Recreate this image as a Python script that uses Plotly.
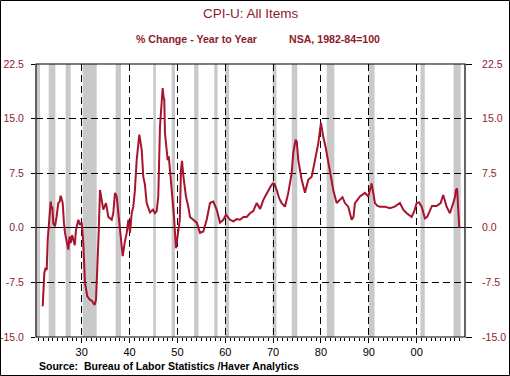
import plotly.graph_objects as go

# ---- data ----
years = [1921.85, 1922.05, 1922.19, 1922.45, 1922.69, 1922.90, 1923.23, 1923.52, 1923.70, 1923.86,
         1924.07, 1924.42, 1924.75, 1925.11, 1925.40, 1925.61, 1925.80, 1926.03, 1926.30, 1926.51,
         1926.87, 1927.20, 1927.45, 1927.70, 1928.00, 1928.24, 1928.55, 1928.81, 1929.29, 1929.64,
         1930.00, 1930.33, 1930.69, 1931.17, 1931.73, 1932.10, 1932.42, 1932.70, 1932.99, 1933.26,
         1933.55, 1933.82, 1934.00, 1934.18, 1934.51, 1934.80, 1935.08, 1935.56, 1936.27, 1936.60,
         1936.96, 1937.31, 1937.58, 1938.00, 1938.57, 1939.00, 1939.40, 1939.74, 1940.09, 1940.45,
         1940.78, 1941.10, 1941.49, 1942.04, 1942.30, 1942.54, 1942.87, 1943.20, 1943.58, 1944.00,
         1944.27, 1944.90, 1945.30, 1945.67, 1946.00, 1946.36, 1946.70, 1946.92, 1947.10, 1947.26,
         1947.40, 1947.55, 1947.75, 1947.97, 1948.20, 1948.45, 1948.80, 1949.29, 1949.70, 1950.18,
         1950.50, 1950.75, 1950.96, 1951.27, 1951.79, 1952.27, 1952.63, 1953.32, 1954.03, 1954.72,
         1955.41, 1956.12, 1956.81, 1957.50, 1958.21, 1958.90, 1959.59, 1960.15, 1960.99, 1961.68,
         1962.40, 1963.08, 1963.80, 1964.48, 1965.17, 1965.85, 1966.56, 1967.30, 1967.94, 1968.50,
         1968.99, 1969.50, 1969.91, 1970.30, 1970.74, 1971.30, 1971.79, 1972.48, 1973.17, 1973.50,
         1973.88, 1974.21, 1974.71, 1974.95, 1975.26, 1975.97, 1976.66, 1977.35, 1978.06, 1978.75,
         1979.44, 1980.00, 1980.20, 1980.48, 1981.00, 1981.19, 1981.88, 1982.57, 1983.28, 1983.97,
         1984.50, 1985.01, 1985.70, 1986.41, 1986.80, 1987.10, 1988.15, 1989.19, 1989.88, 1990.59,
         1991.28, 1991.80, 1992.33, 1993.40, 1994.42, 1995.40, 1996.51, 1997.20, 1997.91, 1998.95,
         1999.50, 2000.00, 2000.50, 2001.04, 2001.73, 2002.20, 2002.78, 2003.20, 2004.18, 2005.00,
         2005.55, 2006.00, 2006.26, 2006.95, 2007.30, 2007.64, 2008.00, 2008.21, 2008.45, 2008.56,
         2008.90]
cpi_yoy = [-10.8, -8.0, -6.2, -5.5, -5.8, -1.6, 1.1, 3.6, 2.6, 2.9,
           0.6, 0.2, 1.5, 3.4, 3.6, 4.4, 4.0, 3.4, 0.6, -0.7,
           -1.9, -3.0, -1.2, -2.1, -1.0, -1.6, -2.4, -0.3, 1.1, 0.4,
           0.7, -2.1, -7.6, -9.4, -9.9, -10.0, -10.3, -10.6, -9.9, -5.8,
           -0.7, 5.2, 4.0, 3.8, 2.5, 3.0, 3.4, 1.5, 1.1, 2.0,
           4.8, 4.3, 2.5, -0.3, -3.9, -2.0, -0.7, 1.1, -0.7, 2.0,
           2.9, 5.0, 9.3, 12.8, 11.8, 10.7, 7.0, 6.0, 3.4, 2.5,
           2.1, 2.5, 2.0, 2.3, 4.3, 13.9, 17.0, 19.2, 18.0, 17.6,
           13.0, 12.1, 10.0, 9.3, 9.8, 8.0, 5.2, 1.5, -2.8, -0.7,
           1.1, 8.0, 9.2, 7.0, 4.3, 2.9, 1.5, 1.1, 0.7, -0.7,
           -0.5, 1.1, 3.4, 3.6, 2.5, 0.7, 1.1, 1.8, 1.1, 0.9,
           1.2, 1.1, 1.5, 1.5, 2.0, 2.3, 3.4, 2.6, 3.8, 4.5,
           5.2, 5.7, 6.1, 6.0, 5.2, 4.0, 3.4, 2.9, 4.8, 6.0,
           7.5, 10.3, 12.1, 11.8, 9.3, 6.6, 4.8, 6.6, 7.0, 9.3,
           11.6, 14.4, 13.5, 12.5, 11.0, 10.3, 8.0, 5.2, 3.4, 3.8,
           4.2, 3.4, 2.9, 1.1, 1.5, 3.4, 4.3, 4.8, 4.3, 6.1,
           3.4, 3.0, 2.9, 2.9, 2.7, 2.9, 3.4, 2.5, 2.0, 1.5,
           2.3, 3.4, 3.5, 2.9, 1.3, 1.5, 2.5, 3.0, 3.0, 3.4,
           4.5, 3.5, 2.9, 2.0, 2.6, 3.4, 4.2, 5.2, 5.4, 4.3,
           0.0]

recession_start = [1920.6, 1923.1, 1926.65, 1930.2, 1937.1, 1944.96, 1948.8, 1953.5, 1957.7,
                   1960.0, 1969.9, 1973.9, 1981.2, 1990.0, 2000.8, 2007.7]
recession_end = [1921.3, 1924.5, 1927.7, 1933.13, 1938.2, 1945.5, 1949.5, 1954.4, 1958.4,
                 1960.8, 1970.7, 1975.05, 1982.8, 1991.2, 2001.7, 2009.2]

x_tick_vals = [1930, 1940, 1950, 1960, 1970, 1980, 1990, 2000]
x_tick_text = ["30", "40", "50", "60", "70", "80", "90", "00"]
minor_years = list(range(1921, 2010))
y_tick_vals = [-15, -7.5, 0, 7.5, 15, 22.5]
y_tick_text = ["-15.0", "-7.5", "0.0", "7.5", "15.0", "22.5"]

# ---- style ----
W, H = 510, 376
L, R, T, B = 36, 45, 64, 39
PW, PH = W - L - R, H - T - B
RED = "#8E1B2C"
LINE = "#A8132E"
FONT = "Liberation Sans, Arial, sans-serif"


def px(xpix):
    return (xpix - L) / PW


def py(ypix):
    return (H - B - ypix) / PH


fig = go.Figure()
fig.add_trace(go.Scatter(x=years, y=cpi_yoy, mode="lines",
                         line=dict(color=LINE, width=2), showlegend=False,
                         hoverinfo="skip"))
fig.add_trace(go.Scatter(x=years, y=cpi_yoy, mode="lines", yaxis="y2",
                         line=dict(color=LINE, width=0), opacity=0,
                         showlegend=False, hoverinfo="skip"))

shapes = []
for s, e in zip(recession_start, recession_end):
    shapes.append(dict(type="rect", xref="x", yref="paper", x0=s, x1=e, y0=0, y1=1,
                       fillcolor="#C9C9C9", line=dict(width=0), layer="below"))
# plot frame
shapes.append(dict(type="rect", xref="paper", yref="paper", x0=0, x1=1, y0=0, y1=1,
                   line=dict(color="black", width=1.2), fillcolor="rgba(0,0,0,0)",
                   layer="above"))
# outer frame of the image
shapes.append(dict(type="rect", xref="paper", yref="paper",
                   x0=px(0.5), x1=px(509.5), y0=py(375.5), y1=py(0.5),
                   line=dict(color="black", width=1), fillcolor="rgba(0,0,0,0)"))

fig.update_layout(
    width=W, height=H, autosize=False,
    margin=dict(l=L, r=R, t=T, b=B, pad=0, autoexpand=False),
    paper_bgcolor="white", plot_bgcolor="white",
    font=dict(family=FONT, size=11, color="black"),
    shapes=shapes,
    xaxis=dict(range=[1920.45, 2010.1], tickmode="array", tickvals=x_tick_vals,
               ticktext=x_tick_text, ticks="outside", ticklen=5, tickcolor="black",
               tickfont=dict(size=11, color="black"), automargin=False,
               showgrid=True, gridcolor="black", griddash="7px,4px", gridwidth=1.3,
               showline=False, zeroline=False,
               minor=dict(tickmode="array", tickvals=minor_years, ticks="outside",
                          ticklen=3, tickcolor="black", showgrid=False)),
    yaxis=dict(range=[-15, 22.5], tickmode="array", tickvals=y_tick_vals,
               ticktext=y_tick_text, ticks="outside", ticklen=4, tickcolor="black",
               tickfont=dict(size=10.5, color=RED), ticklabelstandoff=5, automargin=False,
               showgrid=True, gridcolor="black", griddash="7px,4px", gridwidth=1.3,
               zeroline=True, zerolinecolor="black", zerolinewidth=1.2,
               showline=False),
    yaxis2=dict(range=[-15, 22.5], overlaying="y", side="right", tickmode="array",
                tickvals=y_tick_vals, ticktext=y_tick_text, ticks="outside", ticklen=6,
                tickcolor="black", tickfont=dict(size=10.5, color=RED), ticklabelstandoff=8,
                automargin=False, showgrid=False, zeroline=False, showline=False),
    annotations=[
        dict(text="CPI-U: All Items", xref="paper", yref="paper", x=px(250.5), y=py(14),
             xanchor="center", yanchor="middle", showarrow=False,
             font=dict(family=FONT, size=13.5, color=RED)),
        dict(text="<b>% Change - Year to Year</b>", xref="paper", yref="paper",
             x=px(134), y=py(39), xanchor="left", yanchor="middle", showarrow=False,
             font=dict(family=FONT, size=10.6, color=RED)),
        dict(text="<b>NSA, 1982-84=100</b>", xref="paper", yref="paper",
             x=px(287), y=py(39), xanchor="left", yanchor="middle", showarrow=False,
             font=dict(family=FONT, size=10.6, color=RED)),
        dict(text="<b>Source:  Bureau of Labor Statistics /Haver Analytics</b>",
             xref="paper", yref="paper", x=px(37), y=py(366), xanchor="left",
             yanchor="middle", showarrow=False,
             font=dict(family=FONT, size=10.5, color="black")),
    ],
)

fig.write_html("out.html", config={"displayModeBar": False},
               post_script="document.body.style.margin='0';document.body.style.overflow='hidden';")
